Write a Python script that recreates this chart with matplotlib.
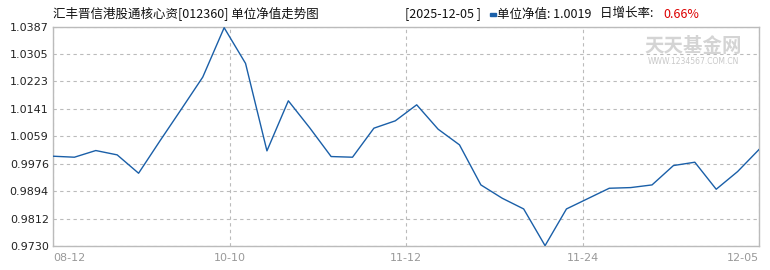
import numpy as np
import matplotlib
matplotlib.use('Agg')
import matplotlib.pyplot as plt

plt.rcParams['font.family'] = ['Noto Sans CJK SC', 'DejaVu Sans']

# unit NAV (34 points)
nav = [0.9999, 0.9996, 1.0016, 1.0003, 0.9948, 1.0045, 1.0140, 1.0236, 1.0384,
       1.0277, 1.0015, 1.0165, 1.0084, 0.9998, 0.9996, 1.0083, 1.0105, 1.0153,
       1.0080, 1.0033, 0.9913, 0.9873, 0.9841, 0.9731, 0.9841, 0.9872, 0.9903,
       0.9905, 0.9913, 0.9971, 0.9981, 0.9900, 0.9953, 1.0019]
x_labels = ['08-12', '10-10', '11-12', '11-24', '12-05']
y_ticks = [0.9730, 0.9812, 0.9894, 0.9976, 1.0059, 1.0141, 1.0223, 1.0305, 1.0387]

title = '汇丰晋信港股通核心资[012360] 单位净值走势图'
last_date = '[2025-12-05 ]'
last_nav = '1.0019'
last_rate = '0.66%'

W, H = 770, 270
fig = plt.figure(figsize=(W/100, H/100), dpi=100)
ax = fig.add_axes([53/W, 1-246/H, (759-53)/W, (246-26.7)/H])

x = np.arange(len(nav))
ax.plot(x, nav, color='#1a5fa8', lw=1.0, zorder=3)

ax.set_xlim(0, len(nav)-1)
ax.set_ylim(y_ticks[0], y_ticks[-1])

ax.set_yticks(y_ticks)
ax.set_yticklabels(['%.4f' % v for v in y_ticks], fontsize=8, color='#222222',
                   family='DejaVu Sans')
xt = np.linspace(0, len(nav)-1, len(x_labels))
ax.set_xticks(xt)
ax.set_xticklabels(x_labels, fontsize=8, color='#999999', family='DejaVu Sans')
xl = ax.get_xticklabels()
xl[0].set_ha('left')
xl[-1].set_ha('right')
ax.tick_params(length=0, pad=3)
ax.tick_params(axis='x', pad=5)

ax.grid(True, color='#bbbbbb', ls=(0, (3, 3)), lw=0.8)
for s in ax.spines.values():
    s.set_color('#bbbbbb')
    s.set_linewidth(1)

# header texts
fig.text(53/W, 1-14/H, title, fontsize=9, va='center', ha='left', color='#111111')
fig.text(405/W, 1-14/H, last_date, fontsize=9, va='center', ha='left', color='#111111')
fig.patches.append(plt.Rectangle((490/W, 1-16/H), 6/W, 3/H, transform=fig.transFigure,
                                 color='#1a5fa8'))
fig.text(497/W, 1-14/H, '单位净值: ' + last_nav, fontsize=9, va='center', ha='left',
         color='#111111')
fig.text(600/W, 1-14/H, '日增长率: ', fontsize=9, va='center', ha='left', color='#111111')
fig.text(663/W, 1-14/H, last_rate, fontsize=9, va='center', ha='left', color='#dd0000')

# watermark
fig.text(693/W, 1-46/H, '天天基金网', fontsize=14, va='center', ha='center',
         color='#d4d4d4', weight='bold')
fig.text(693/W, 1-62/H, 'WWW.1234567.COM.CN', fontsize=5.5, va='center', ha='center',
         color='#c8c8c8', family='DejaVu Sans')

fig.savefig('out.png', dpi=100)
